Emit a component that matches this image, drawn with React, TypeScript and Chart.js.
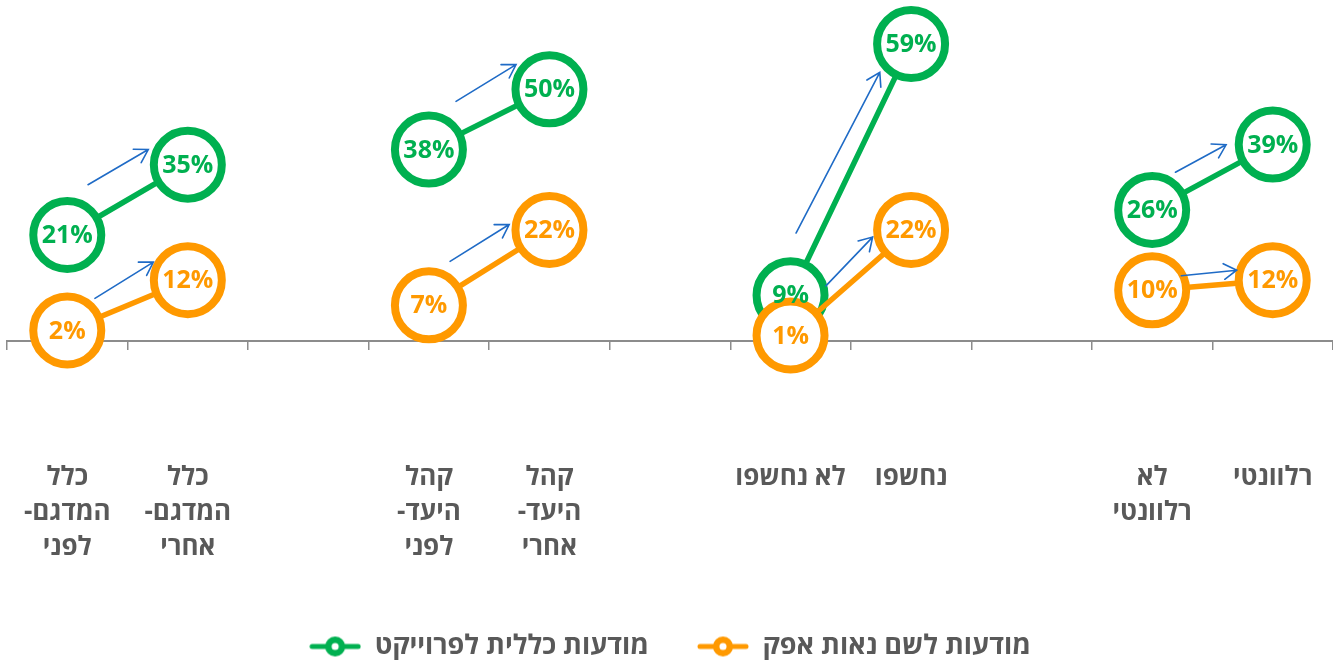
import React, { useEffect, useRef } from "react";
import { Chart, registerables } from "chart.js";

Chart.register(...registerables);

// ---------- data ----------
const CATEGORIES: (string | string[])[] = [
  ["כלל", "המדגם-", "לפני"],
  ["כלל", "המדגם-", "אחרי"],
  "",
  ["קהל", "היעד-", "לפני"],
  ["קהל", "היעד-", "אחרי"],
  "",
  "לא נחשפו",
  "נחשפו",
  "",
  ["לא", "רלוונטי"],
  "רלוונטי",
];
const SERIES_NAMES = ["מודעות כללית לפרוייקט", "מודעות לשם נאות אפק"];
const GENERAL_AWARENESS: (number | null)[] = [21, 35, null, 38, 50, null, 9, 59, null, 26, 39];
const NAME_AWARENESS: (number | null)[] = [2, 12, null, 7, 22, null, 1, 22, null, 10, 12];

// arrows drawn beside each before/after segment: [datasetIndex, fromIndex, toIndex]
const ARROW_PAIRS: [number, number, number][] = [
  [0, 0, 1], [1, 0, 1],
  [0, 3, 4], [1, 3, 4],
  [0, 6, 7], [1, 6, 7],
  [0, 9, 10], [1, 9, 10],
];
// arrow placement along / beside each segment: [startFrac, endFrac, offsetStart(px), offsetEnd(px)]
const ARROW_PLACEMENT: [number, number, number, number][] = [
  [0.31, 0.81, 33, 33], [0.29, 0.81, 19, 30],
  [0.34, 0.86, 31, 37], [0.29, 0.78, 26, 26],
  [0.21, 0.86, 22, 16], [0.37, 0.79, 14, 20],
  [0.28, 0.7, 22, 22], [0.25, 0.71, 12, 13],
];

// ---------- style ----------
const GREEN = "#00B050";
const ORANGE = "#FF9900";
const TEXT = "#595959";
const AXIS = "#8C8C8C";
const ARROW = "#1F6BC6";
const FONT = "'Open Sans', 'DejaVu Sans', 'Liberation Sans', sans-serif";
const Y_MIN = -20;
const Y_MAX = 62;

function makeMarker(color: string): HTMLCanvasElement {
  const c = document.createElement("canvas");
  c.width = 52;
  c.height = 24;
  const g = c.getContext("2d")!;
  g.strokeStyle = color;
  g.lineWidth = 5;
  g.lineCap = "round";
  g.beginPath();
  g.moveTo(3, 12);
  g.lineTo(49, 12);
  g.stroke();
  g.beginPath();
  g.arc(26, 12, 6.8, 0, Math.PI * 2);
  g.fillStyle = "#fff";
  g.fill();
  g.lineWidth = 6.5;
  g.stroke();
  return c;
}

const overlayPlugin = {
  id: "overlay",
  afterDatasetsDraw(chart: any) {
    const ctx = chart.ctx as CanvasRenderingContext2D;
    // arrows
    ctx.save();
    ctx.strokeStyle = ARROW;
    ctx.lineWidth = 1.6;
    ctx.lineCap = "round";
    ARROW_PAIRS.forEach(([ds, i0, i1], k) => {
      const [a, b, o0, o1] = ARROW_PLACEMENT[k];
      const meta = chart.getDatasetMeta(ds);
      const p0 = meta.data[i0];
      const p1 = meta.data[i1];
      const dx = p1.x - p0.x;
      const dy = p1.y - p0.y;
      const len = Math.hypot(dx, dy);
      const ux = dx / len;
      const uy = dy / len;
      const px = uy;
      const py = -ux;
      const sx = p0.x + dx * a + px * o0;
      const sy = p0.y + dy * a + py * o0;
      const ex = p0.x + dx * b + px * o1;
      const ey = p0.y + dy * b + py * o1;
      ctx.beginPath();
      ctx.moveTo(sx, sy);
      ctx.lineTo(ex, ey);
      const ang = Math.atan2(ey - sy, ex - sx);
      const hl = 15;
      const ha = 0.55;
      ctx.moveTo(ex - hl * Math.cos(ang - ha), ey - hl * Math.sin(ang - ha));
      ctx.lineTo(ex, ey);
      ctx.lineTo(ex - hl * Math.cos(ang + ha), ey - hl * Math.sin(ang + ha));
      ctx.stroke();
    });
    ctx.restore();

    // value labels
    ctx.save();
    ctx.font = `bold 25px ${FONT}`;
    ctx.textAlign = "center";
    ctx.textBaseline = "middle";
    chart.data.datasets.forEach((ds: any, di: number) => {
      const meta = chart.getDatasetMeta(di);
      ds.data.forEach((v: number | null, i: number) => {
        if (v === null || v === undefined) return;
        const pt = meta.data[i];
        ctx.fillStyle = ds.borderColor;
        ctx.fillText(`${v}%`, pt.x, pt.y + 1);
      });
    });
    ctx.restore();
  },
};

export default function App() {
  const ref = useRef<HTMLCanvasElement | null>(null);

  useEffect(() => {
    document.body.style.margin = "0";
    if (!ref.current) return;
    const markers = [makeMarker(GREEN), makeMarker(ORANGE)];
    const pointStyleOpts = {
      borderWidth: 5.5,
      pointRadius: 34,
      pointHoverRadius: 34,
      pointBorderWidth: 8,
      pointBackgroundColor: "#fff",
      backgroundColor: "#fff",
      spanGaps: false,
      clip: false as any,
    };
    const chart = new Chart(ref.current, {
      type: "line",
      data: {
        labels: CATEGORIES as any,
        datasets: [
          {
            label: SERIES_NAMES[0],
            data: GENERAL_AWARENESS,
            borderColor: GREEN,
            pointBorderColor: GREEN,
            order: 1,
            ...pointStyleOpts,
          },
          {
            label: SERIES_NAMES[1],
            data: NAME_AWARENESS,
            borderColor: ORANGE,
            pointBorderColor: ORANGE,
            order: 0,
            ...pointStyleOpts,
          },
        ],
      },
      options: {
        responsive: false,
        animation: false,
        events: [],
        layout: { autoPadding: false, padding: { top: 29, left: 7, right: 0, bottom: 0 } },
        scales: {
          x: {
            type: "category",
            position: "bottom",
            offset: true,
            grid: { display: false, drawTicks: false },
            border: { display: false },
            ticks: {
              autoSkip: false,
              maxRotation: 0,
              minRotation: 0,
              padding: 19,
              color: TEXT,
              font: { family: FONT, size: 26, weight: "bold", lineHeight: 1.35 },
            },
            afterFit: (s: any) => {
              s.height = 144;
            },
          },
          x0: {
            type: "category",
            axis: "x",
            position: { y: 0 } as any,
            offset: true,
            grid: {
              offset: true,
              drawOnChartArea: false,
              drawTicks: true,
              tickLength: 8,
              color: AXIS,
              lineWidth: 1.5,
            },
            border: { display: true, color: AXIS, width: 2 },
            ticks: { display: false },
          },
          y: {
            type: "linear",
            display: false,
            min: Y_MIN,
            max: Y_MAX,
          },
        },
        plugins: {
          tooltip: { enabled: false },
          legend: {
            display: true,
            position: "bottom",
            labels: {
              usePointStyle: true,
              pointStyleWidth: 52,
              padding: 48,
              color: TEXT,
              font: { family: FONT, size: 27, weight: "bold" },
              sort: (a: any, b: any) => a.datasetIndex - b.datasetIndex,
              generateLabels: (ch: any) => {
                const base = (Chart.defaults.plugins.legend.labels as any).generateLabels(ch);
                return base.map((it: any) => ({
                  ...it,
                  pointStyle: markers[it.datasetIndex],
                  fontColor: TEXT,
                }));
              },
            },
          },
        },
      } as any,
      plugins: [overlayPlugin],
    });
    return () => chart.destroy();
  }, []);

  return (
    <div style={{ width: 1333, height: 670, background: "#fff" }}>
      <canvas ref={ref} width={1333} height={670} dir="rtl" />
    </div>
  );
}
